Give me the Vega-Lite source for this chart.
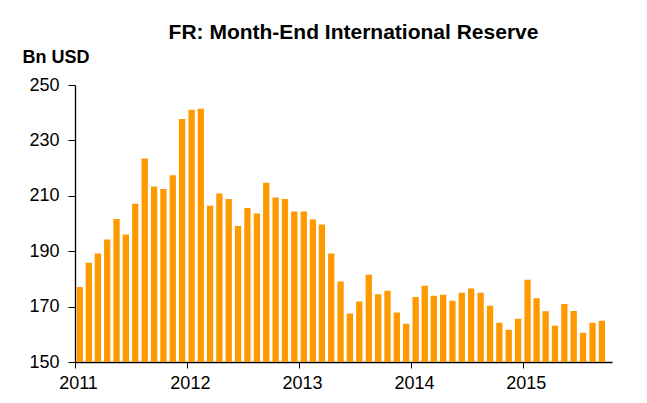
{
  "$schema": "https://vega.github.io/schema/vega-lite/v6.json",
  "width": 537,
  "height": 277,
  "autosize": "none",
  "padding": {"left": 75, "top": 85, "right": 35, "bottom": 41},
  "background": "white",
  "title": {
    "text": "FR: Month-End International Reserve",
    "font": "Liberation Sans",
    "fontSize": 21,
    "fontWeight": "bold",
    "color": "black",
    "anchor": "middle",
    "frame": "group",
    "dx": 10,
    "offset": 5
  },
  "data": {
    "values": [
      {"month": "2011-01", "reserve": 177.1}, {"month": "2011-02", "reserve": 185.8}, {"month": "2011-03", "reserve": 189.2},
      {"month": "2011-04", "reserve": 194.2}, {"month": "2011-05", "reserve": 201.6}, {"month": "2011-06", "reserve": 196.0},
      {"month": "2011-07", "reserve": 207.1}, {"month": "2011-08", "reserve": 223.5}, {"month": "2011-09", "reserve": 213.4},
      {"month": "2011-10", "reserve": 212.5}, {"month": "2011-11", "reserve": 217.4}, {"month": "2011-12", "reserve": 237.7},
      {"month": "2012-01", "reserve": 241.1}, {"month": "2012-02", "reserve": 241.4}, {"month": "2012-03", "reserve": 206.4},
      {"month": "2012-04", "reserve": 210.8}, {"month": "2012-05", "reserve": 208.8}, {"month": "2012-06", "reserve": 199.1},
      {"month": "2012-07", "reserve": 205.6}, {"month": "2012-08", "reserve": 203.6}, {"month": "2012-09", "reserve": 214.7},
      {"month": "2012-10", "reserve": 209.4}, {"month": "2012-11", "reserve": 208.8}, {"month": "2012-12", "reserve": 204.3},
      {"month": "2013-01", "reserve": 204.3}, {"month": "2013-02", "reserve": 201.4}, {"month": "2013-03", "reserve": 199.6},
      {"month": "2013-04", "reserve": 189.2}, {"month": "2013-05", "reserve": 179.1}, {"month": "2013-06", "reserve": 167.5},
      {"month": "2013-07", "reserve": 171.8}, {"month": "2013-08", "reserve": 181.5}, {"month": "2013-09", "reserve": 174.5},
      {"month": "2013-10", "reserve": 175.7}, {"month": "2013-11", "reserve": 167.9}, {"month": "2013-12", "reserve": 163.8},
      {"month": "2014-01", "reserve": 173.5}, {"month": "2014-02", "reserve": 177.5}, {"month": "2014-03", "reserve": 173.9},
      {"month": "2014-04", "reserve": 174.3}, {"month": "2014-05", "reserve": 172.1}, {"month": "2014-06", "reserve": 175.0},
      {"month": "2014-07", "reserve": 176.5}, {"month": "2014-08", "reserve": 175.0}, {"month": "2014-09", "reserve": 170.3},
      {"month": "2014-10", "reserve": 164.2}, {"month": "2014-11", "reserve": 161.6}, {"month": "2014-12", "reserve": 165.6},
      {"month": "2015-01", "reserve": 179.7}, {"month": "2015-02", "reserve": 173.0}, {"month": "2015-03", "reserve": 168.3},
      {"month": "2015-04", "reserve": 163.1}, {"month": "2015-05", "reserve": 170.9}, {"month": "2015-06", "reserve": 168.4},
      {"month": "2015-07", "reserve": 160.6}, {"month": "2015-08", "reserve": 164.2}, {"month": "2015-09", "reserve": 164.9}
    ]
  },
  "mark": {"type": "bar", "color": "#FF9900", "width": 6.3, "clip": true},
  "encoding": {
    "x": {
      "field": "month",
      "type": "temporal",
      "timeUnit": "utcyearmonth",
      "bandPosition": 0.5,
      "scale": {
        "type": "utc",
        "domain": [
          {"year": 2011, "month": 1, "date": 1, "utc": true},
          {"year": 2015, "month": 10, "date": 19, "utc": true}
        ]
      },
      "axis": {
        "title": null,
        "values": [
          {"year": 2011, "month": 1, "date": 1, "utc": true},
          {"year": 2012, "month": 1, "date": 1, "utc": true},
          {"year": 2013, "month": 1, "date": 1, "utc": true},
          {"year": 2014, "month": 1, "date": 1, "utc": true},
          {"year": 2015, "month": 1, "date": 1, "utc": true}
        ],
        "labelExpr": "utcFormat(datum.value, '%Y')",
        "grid": false,
        "domainColor": "black",
        "domainWidth": 1.3,
        "tickColor": "black",
        "tickSize": 6,
        "labelFont": "Liberation Sans",
        "labelFontSize": 18,
        "labelColor": "black",
        "labelPadding": 6,
        "labelOffset": 3,
        "labelFlush": false,
        "labelOverlap": false
      }
    },
    "y": {
      "field": "reserve",
      "type": "quantitative",
      "scale": {"domain": [150, 250], "zero": false, "nice": false},
      "axis": {
        "title": "Bn USD",
        "titleAngle": 0,
        "titleAlign": "left",
        "titleBaseline": "alphabetic",
        "titleX": -53,
        "titleY": -23,
        "titleFont": "Liberation Sans",
        "titleFontSize": 18,
        "titleFontWeight": "bold",
        "titleColor": "black",
        "values": [150, 170, 190, 210, 230, 250],
        "grid": false,
        "domainColor": "black",
        "domainWidth": 1.3,
        "tickColor": "black",
        "tickSize": 7,
        "labelFont": "Liberation Sans",
        "labelFontSize": 18,
        "labelColor": "black",
        "labelPadding": 9
      }
    }
  },
  "config": {"view": {"stroke": null}}
}
